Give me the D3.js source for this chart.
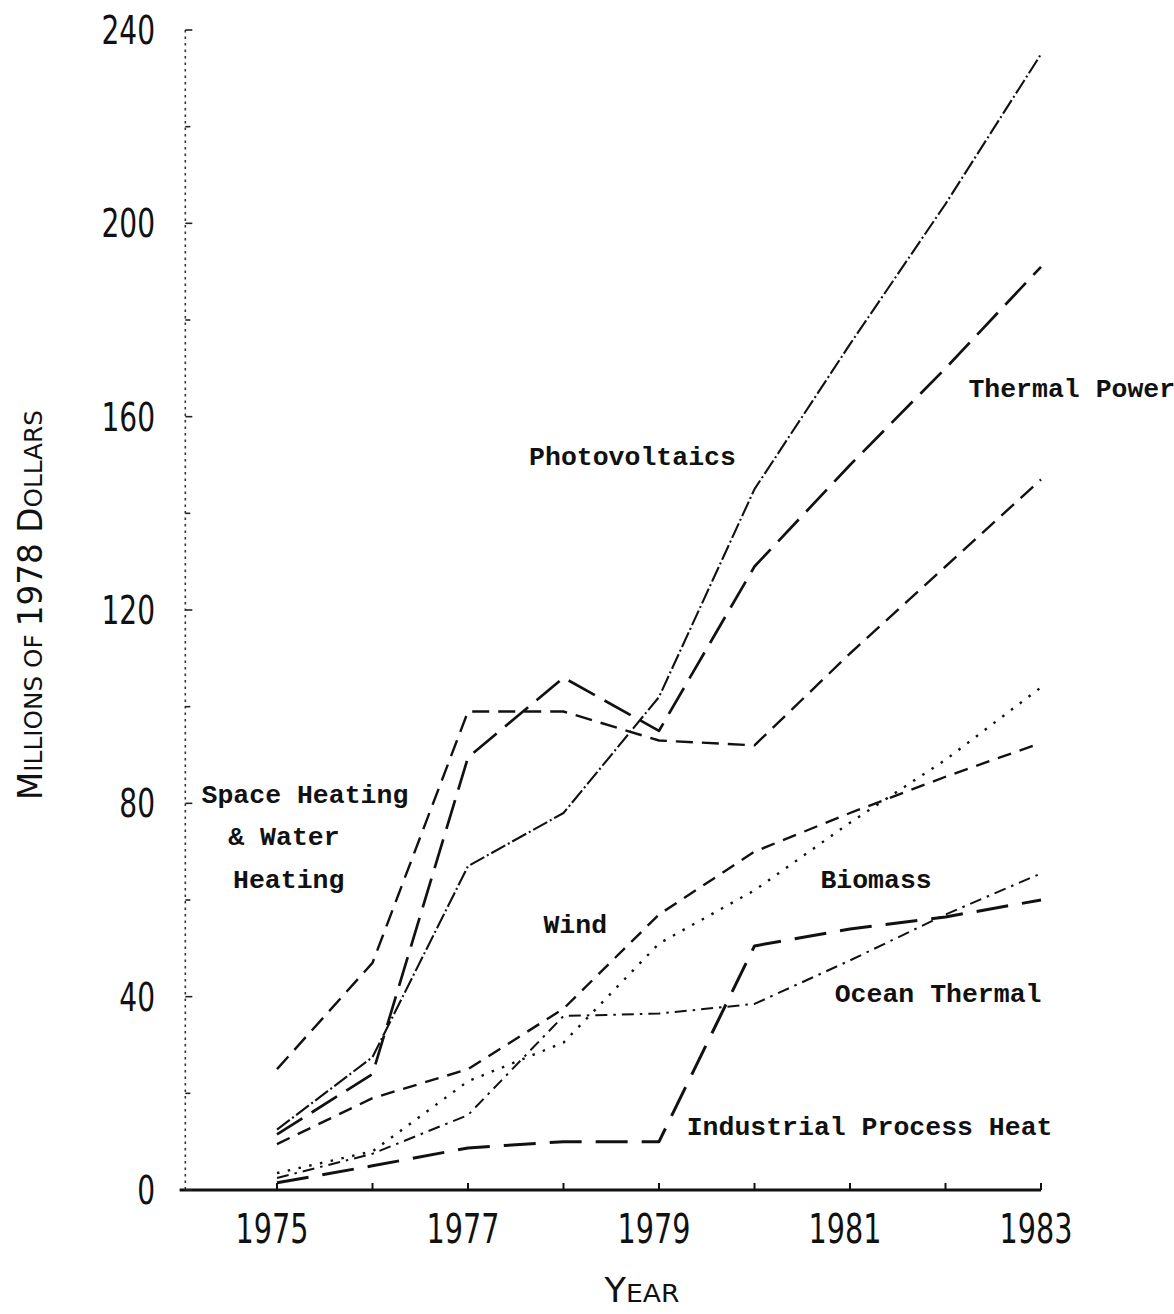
<!DOCTYPE html>
<html>
<head>
<meta charset="utf-8">
<script src="https://cdn.jsdelivr.net/npm/d3@7/dist/d3.min.js"></script>
<style>
  html, body { margin: 0; padding: 0; background: #fff; }
  svg { display: block; }
</style>
</head>
<body>
<svg id="chart" width="1174" height="1314"></svg>
<script>
// ---------------- data ----------------
const years = [1975, 1976, 1977, 1978, 1979, 1980, 1981, 1982, 1983];
const photovoltaics = [12.5, 27.5, 67, 78, 102, 145, 175, 204, 235];
const thermalPower  = [11.5, 24, 89.5, 106, 95, 129, 150, 170, 191];
const spaceHeating  = [25, 47, 99, 99, 93, 92, 111, 129, 147];
const wind          = [9.5, 19, 25, 37.5, 57, 70, 78, 85.5, 92.5];
const biomass       = [3.5, 8, 22.5, 30.5, 51, 62, 76, 89, 104];
const oceanThermal  = [2.5, 7.5, 15.5, 36, 36.5, 38.5, 47.5, 57, 65.5];
const industrial    = [1.5, 5, 8.7, 10, 10, 50.5, 54, 56.5, 60];

const xTickLabels = [1975, 1977, 1979, 1981, 1983];
const yTickLabels = [0, 40, 80, 120, 160, 200, 240];
const yMinorTicks = [0, 20, 40, 60, 80, 100, 120, 140, 160, 180, 200, 220, 240];

// label anchors in data coordinates (year, value)
const labelText = ["Photovoltaics", "Thermal Power", "Space Heating", "& Water", "Heating",
                   "Wind", "Biomass", "Ocean Thermal", "Industrial Process Heat"];
const labelYear = [1977.64, 1982.24, 1974.21, 1974.49, 1974.54, 1977.79, 1980.69, 1980.84, 1979.29];
const labelValue = [150.0, 164.1, 80.1, 71.4, 62.5, 53.2, 62.5, 38.9, 11.4];

// ---------------- layout ----------------
const svg = d3.select("#chart");
const x = d3.scaleLinear().domain([1975, 1983]).range([277, 1041]);
const y = d3.scaleLinear().domain([0, 240]).range([1190, 30]);

const ink = "#111";

// series definitions (data + style)
const series = [
  { values: photovoltaics, dash: "16,3,2,3", width: 2.1 },
  { values: thermalPower,  dash: "30,11",    width: 2.7 },
  { values: spaceHeating,  dash: "17,9",     width: 2.4 },
  { values: wind,          dash: "14,9",     width: 2.4 },
  { values: biomass,       dash: "2.5,8.5",  width: 2.4 },
  { values: oceanThermal,  dash: "12,6,2.5,6", width: 2.0 },
  { values: industrial,    dash: "32,14",    width: 3.0 }
];

// ---------------- axes ----------------
svg.append("line")
  .attr("x1", x(1973.98)).attr("x2", x(1983))
  .attr("y1", y(0)).attr("y2", y(0))
  .attr("stroke", ink).attr("stroke-width", 3);

svg.append("g").selectAll("line").data(years).join("line")
  .attr("x1", d => x(d)).attr("x2", d => x(d))
  .attr("y1", y(0)).attr("y2", y(0) - 7)
  .attr("stroke", ink).attr("stroke-width", 2);

// y axis (faint dotted)
const yAxisX = x(1974.04);
svg.append("line")
  .attr("x1", yAxisX).attr("x2", yAxisX)
  .attr("y1", y(240)).attr("y2", y(0))
  .attr("stroke", "#333").attr("stroke-width", 1.6)
  .attr("stroke-dasharray", "2.5,4");

svg.append("g").selectAll("line").data(yMinorTicks).join("line")
  .attr("x1", yAxisX).attr("x2", d => yAxisX + (d % 40 === 0 ? 7 : 5))
  .attr("y1", d => y(d)).attr("y2", d => y(d))
  .attr("stroke", "#222").attr("stroke-width", 1.6);

// y tick labels (tall condensed digits)
svg.append("g").selectAll("text").data(yTickLabels).join("text")
  .attr("transform", d => `translate(155,${y(d)}) scale(0.72,1)`)
  .attr("dy", "0.36em")
  .attr("text-anchor", "end")
  .attr("font-family", "DejaVu Sans, sans-serif")
  .attr("font-size", 39)
  .attr("fill", ink)
  .text(d => d);

// x tick labels
svg.append("g").selectAll("text").data(xTickLabels).join("text")
  .attr("transform", d => `translate(${x(d) - 5},1243) scale(0.70,1)`)
  .attr("text-anchor", "middle")
  .attr("font-family", "DejaVu Sans, sans-serif")
  .attr("font-size", 41)
  .attr("fill", ink)
  .text(d => d);

function smallCaps(g, parts, bigSize, smallSize) {
  const t = g.append("text")
    .attr("font-family", "DejaVu Sans, sans-serif")
    .attr("fill", ink);
  parts.forEach(p => {
    t.append("tspan").attr("font-size", p[1] ? bigSize : smallSize).text(p[0]);
  });
  return t;
}

// y axis title
{
  const g = svg.append("g");
  const t = smallCaps(g, [["M", 1], ["ILLIONS OF ", 0], ["1978 D", 1], ["OLLARS", 0]], 33, 25);
  const w = t.node().getComputedTextLength();
  t.attr("text-anchor", "middle");
  const k = 390 / w;
  g.attr("transform", `translate(42,605) rotate(-90) scale(${k},1)`);
}

// x axis title
{
  const g = svg.append("g");
  const t = smallCaps(g, [["Y", 1], ["EAR", 0]], 33, 25);
  const w = t.node().getComputedTextLength();
  t.attr("text-anchor", "middle");
  const k = 75 / w;
  g.attr("transform", `translate(642,1302) scale(${k},1)`);
}

// ---------------- lines ----------------
const line = d3.line()
  .x((d, i) => x(years[i]))
  .y(d => y(d));

svg.append("g").selectAll("path").data(series).join("path")
  .attr("d", s => line(s.values))
  .attr("fill", "none")
  .attr("stroke", ink)
  .attr("stroke-width", s => s.width)
  .attr("stroke-dasharray", s => s.dash)
  .attr("stroke-linejoin", "round");

// ---------------- series labels ----------------
svg.append("g").selectAll("text").data(labelText).join("text")
  .attr("x", (d, i) => x(labelYear[i]))
  .attr("y", (d, i) => y(labelValue[i]))
  .attr("font-family", "Liberation Mono, Courier New, monospace")
  .attr("font-weight", "bold")
  .attr("font-size", 26.5)
  .attr("fill", ink)
  .text(d => d);
</script>
</body>
</html>
